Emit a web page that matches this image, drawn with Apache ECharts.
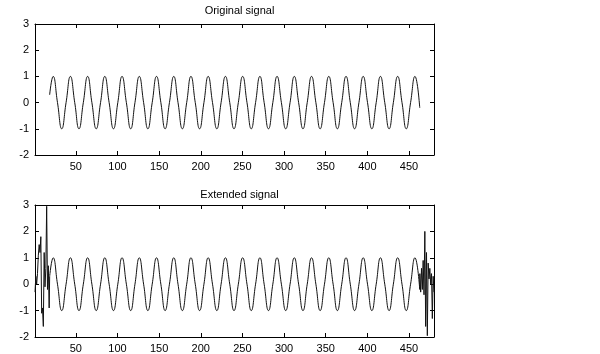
<!DOCTYPE html>
<html>
<head>
<meta charset="utf-8">
<script src="https://cdn.jsdelivr.net/npm/echarts@6/dist/echarts.min.js"></script>
<style>
html,body{margin:0;padding:0;background:#fff;}
#chart{width:600px;height:354px;}
</style>
</head>
<body>
<div id="chart"></div>
<script>
// ---- data ----
const titles = ['Original signal', 'Extended signal'];
const xRange = [1, 480];
const yRange = [-2, 3];
const xTicks = [50, 100, 150, 200, 250, 300, 350, 400, 450];
const yTicks = [-2, -1, 0, 1, 2, 3];

// sine part: start, then peak / zero / trough / zero for each period, then last peak and end
const sineX = [18.6,
  22.8, 28.0, 33.1, 38.3,
  43.5, 48.7, 53.8, 59.0,
  64.2, 69.3, 74.5, 79.7,
  84.8, 90.0, 95.2, 100.4,
  105.5, 110.7, 115.9, 121.0,
  126.2, 131.4, 136.5, 141.7,
  146.9, 152.1, 157.2, 162.4,
  167.6, 172.7, 177.9, 183.1,
  188.2, 193.4, 198.6, 203.8,
  208.9, 214.1, 219.3, 224.4,
  229.6, 234.8, 239.9, 245.1,
  250.3, 255.5, 260.6, 265.8,
  271.0, 276.1, 281.3, 286.5,
  291.6, 296.8, 302.0, 307.2,
  312.3, 317.5, 322.7, 327.8,
  333.0, 338.2, 343.3, 348.5,
  353.7, 358.9, 364.0, 369.2,
  374.4, 379.5, 384.7, 389.9,
  395.0, 400.2, 405.4, 410.6,
  415.7, 420.9, 426.1, 431.2,
  436.4, 441.6, 446.7, 451.9,
  457.1, 462.9];
const sineY = [0.3,
  1, 0, -1, 0,  1, 0, -1, 0,  1, 0, -1, 0,  1, 0, -1, 0,
  1, 0, -1, 0,  1, 0, -1, 0,  1, 0, -1, 0,  1, 0, -1, 0,
  1, 0, -1, 0,  1, 0, -1, 0,  1, 0, -1, 0,  1, 0, -1, 0,
  1, 0, -1, 0,  1, 0, -1, 0,  1, 0, -1, 0,  1, 0, -1, 0,
  1, 0, -1, 0,  1, 0, -1, 0,  1, 0, -1, 0,  1, 0, -1, 0,
  1, 0, -1, 0,
  1, -0.2];

// extension at the left end of the extended signal
const leftExtX = [1, 2, 3, 4, 5, 6, 7, 8, 9, 10, 11, 12, 13, 14, 15, 16, 17, 18];
const leftExtY = [-0.3, 0.3, 0.0, 0.4, 1.1, 1.5, 1.2, 1.8, -1.1, -0.9, -1.6, 1.2, -0.1, 0.6, 2.95, -0.2, 0.7, -0.9];

// extension at the right end of the extended signal
const rightExtX = [463, 464, 465, 466, 467, 468, 469, 470, 471, 472, 473, 474, 475, 476, 477, 478, 479, 480];
const rightExtY = [0.4, -0.3, 0.6, -0.2, 0.9, -0.4, 2.0, -1.6, 1.2, -1.95, 0.8, 0.2, 0.6, 0.0, 0.4, -1.3, 0.3, -0.3];

// ---- build ----
const zip = (xs, ys) => xs.map((x, i) => [x, ys[i]]);
const sineData = zip(sineX, sineY);
const leftData = zip(leftExtX, leftExtY).concat([sineData[0]]);
const rightData = [sineData[sineData.length - 1]].concat(zip(rightExtX, rightExtY));

const FONT = 'Liberation Sans, Arial, Helvetica, sans-serif';
const txt = { color: '#000', fontFamily: FONT, fontSize: 11 };
const lineColor = '#111';

const grids = [
  { left: 35, width: 399, top: 24, height: 131 },
  { left: 35, width: 399, top: 205, height: 132 }
];

function xAx(gi, pos) {
  const main = pos === 'bottom';
  return {
    type: 'value', gridIndex: gi, position: pos, min: xRange[0], max: xRange[1],
    axisLine: { show: true, onZero: false, lineStyle: { color: '#000', width: 1 } },
    axisTick: { show: true, inside: true, length: 4, customValues: xTicks, lineStyle: { color: '#000' } },
    axisLabel: { show: main, customValues: xTicks, margin: 6, ...txt },
    splitLine: { show: false }
  };
}
function yAx(gi, pos) {
  const main = pos === 'left';
  return {
    type: 'value', gridIndex: gi, position: pos, min: yRange[0], max: yRange[1], interval: 1,
    axisLine: { show: true, onZero: false, lineStyle: { color: '#000', width: 1 } },
    axisTick: { show: true, inside: true, length: 4, customValues: yTicks, lineStyle: { color: '#000' } },
    axisLabel: { show: main, customValues: yTicks, margin: 6, ...txt },
    splitLine: { show: false }
  };
}

const lineBase = { type: 'line', showSymbol: false, symbol: 'none', lineStyle: { color: lineColor, width: 1 }, animation: false };

const option = {
  backgroundColor: '#fff',
  animation: false,
  title: [
    { text: titles[0], left: 234.5, top: 0, textAlign: 'center', textStyle: { ...txt, fontWeight: 'normal' } },
    { text: titles[1], left: 234.5, top: 184, textAlign: 'center', textStyle: { ...txt, fontWeight: 'normal' } }
  ],
  grid: grids,
  xAxis: [xAx(0, 'bottom'), xAx(0, 'top'), xAx(1, 'bottom'), xAx(1, 'top')],
  yAxis: [yAx(0, 'left'), yAx(0, 'right'), yAx(1, 'left'), yAx(1, 'right')],
  series: [
    { ...lineBase, xAxisIndex: 0, yAxisIndex: 0, smooth: true, data: sineData },
    { ...lineBase, xAxisIndex: 2, yAxisIndex: 2, smooth: true, data: sineData },
    { ...lineBase, xAxisIndex: 2, yAxisIndex: 2, smooth: false, data: leftData },
    { ...lineBase, xAxisIndex: 2, yAxisIndex: 2, smooth: false, data: rightData }
  ]
};

const chart = echarts.init(document.getElementById('chart'), null, { renderer: 'canvas' });
chart.setOption(option);
</script>
</body>
</html>
